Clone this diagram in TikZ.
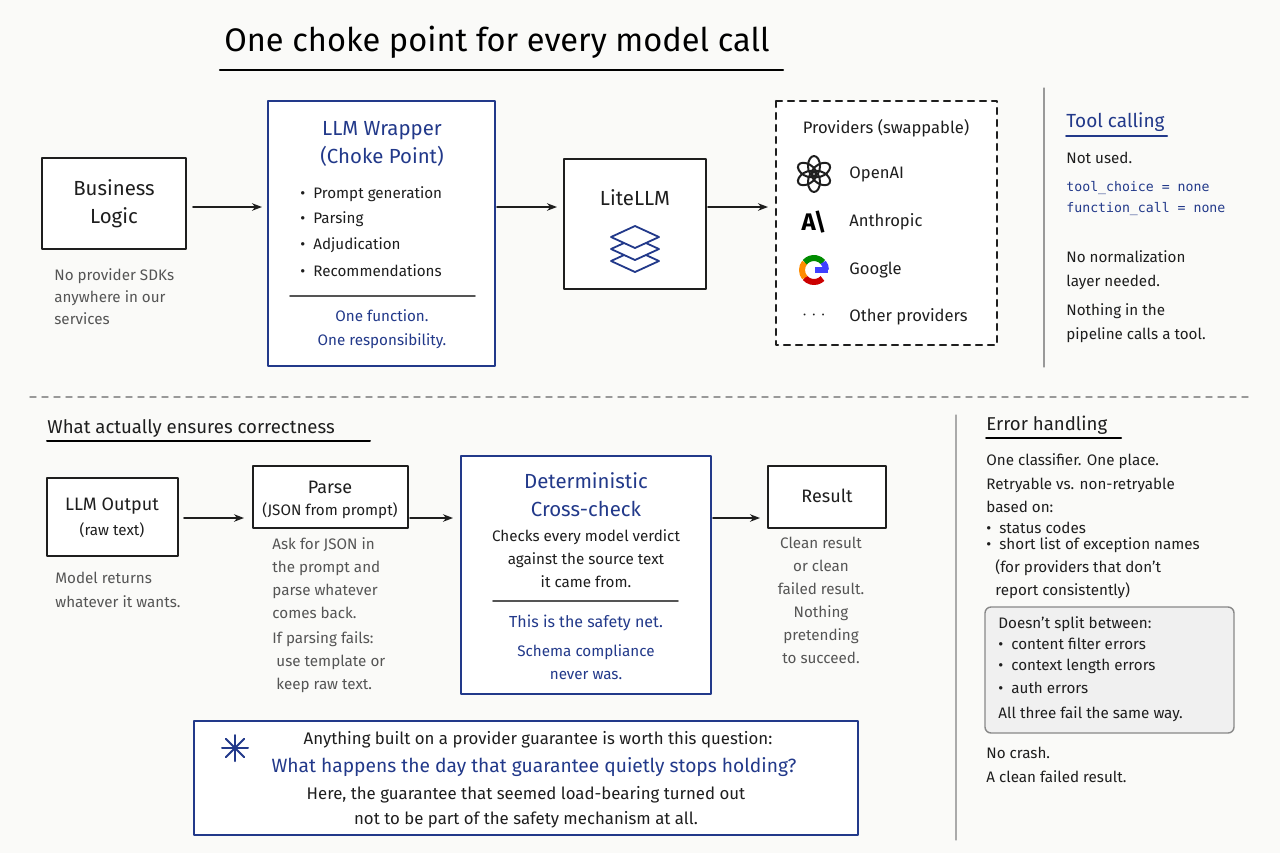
\documentclass[tikz,border=0pt]{standalone}
\usepackage{fontspec}
\setmainfont{Fira Sans}
\setmonofont{DejaVu Sans Mono}
\usetikzlibrary{arrows.meta}
\definecolor{ink}{HTML}{1E1E1E}
\definecolor{navy}{HTML}{22398A}
\definecolor{note}{HTML}{555555}
\definecolor{paper}{HTML}{FAFAF8}
\begin{document}
\begin{tikzpicture}[x=0.5pt,y=-0.5pt,line join=round,line cap=round]
\tikzstyle{box}=[draw=ink,line width=1.1pt,fill=white]
\tikzstyle{bluebox}=[draw=navy,line width=1.2pt,fill=white]
\tikzstyle{arr}=[-{Stealth[length=5pt]},line width=0.9pt,ink]
\tikzstyle{txt}=[inner sep=0,font=\fontsize{7.6}{9}\selectfont,text=ink]
\tikzstyle{head}=[inner sep=0,font=\fontsize{10.2}{12}\selectfont,text=ink]
\tikzstyle{gray}=[txt,text=note,anchor=west]
\fill[paper] (0,0) rectangle (1280,853);
\useasboundingbox (0,0) rectangle (1280,853);
% title
\node[inner sep=0,font=\fontsize{16.3}{20}\selectfont] (title) at (497,42) {One choke point for every model call};
\draw[line width=1.2pt] (220,70) -- (783,70);
% top row
\draw[box] (42,158) rectangle (186,249);
\node[head,align=center] (biz) at (114,204) {Business\\[2pt]Logic};
\node[gray,align=left] (biznote) at (54,297) {No provider SDKs\\[2pt]anywhere in our\\[2pt]services};
\draw[bluebox] (268,101) rectangle (495,366);
\node[head,text=navy,align=center] (wrap) at (382,144) {LLM Wrapper\\[2pt](Choke Point)};
\foreach \t [count=\i] in {Prompt generation,Parsing,Adjudication,Recommendations}
  \node[txt,anchor=west] (w\i) at (300,168+25.7*\i) {\textbullet\ \ \t};
\draw[line width=0.8pt,note] (290,296) -- (475,296);
\node[txt,text=navy,align=center] (wrapnote) at (382,329) {One function.\\[3pt]One responsibility.};
\draw[box] (564,159) rectangle (706,289);
\node[head] (lite) at (635,198) {LiteLLM};
\foreach \dy in {24,12,0}
  \draw[navy,line width=0.9pt,fill=white] (635,248+\dy) -- ++(24,-11) -- ++(-24,-11) -- ++(-24,11) -- cycle;
\draw[box,dashed] (776,101) rectangle (997,345);
\node[txt,font=\fontsize{8.3}{10}\selectfont] (prov) at (886,128) {Providers (swappable)};
% openai
\foreach \a in {0,60,...,300}
  \draw[ink,line width=1pt,rotate around={\a:(814,174)}] (814,166) ellipse [x radius=6,y radius=10];
\node[txt,anchor=west,font=\fontsize{8.3}{10}\selectfont] (oai) at (849,174) {OpenAI};
% anthropic
\node[inner sep=0,font=\fontsize{12}{12}\bfseries\selectfont] (aic) at (814,222) {A\kern-1pt\textbackslash};
\node[txt,anchor=west,font=\fontsize{8.3}{10}\selectfont] (ant) at (849,222) {Anthropic};
% google
\draw[line width=3pt,red!80!black,line cap=butt] (814,270) ++(45:12) arc (45:140:12);
\draw[line width=3pt,orange!90!yellow,line cap=butt] (814,270) ++(140:12) arc (140:220:12);
\draw[line width=3pt,green!55!black,line cap=butt] (814,270) ++(220:12) arc (220:320:12);
\draw[line width=3pt,blue!75,line cap=butt] (814,270) ++(320:12) arc (320:360:12);
\draw[line width=3pt,blue!75,line cap=butt] (827.5,270) -- (815,270);
\node[txt,anchor=west,font=\fontsize{8.3}{10}\selectfont] (goo) at (849,270) {Google};
\node[txt,font=\fontsize{9}{10}\bfseries\selectfont] (dots) at (814,315) {$\cdot\cdot\cdot$};
\node[txt,anchor=west,font=\fontsize{8.3}{10}\selectfont] (oth) at (849,317) {Other providers};
\coordinate (a1) at (193,207); \coordinate (a2) at (262,207);
\coordinate (a3) at (497,207); \coordinate (a4) at (557,207);
\coordinate (a5) at (708,207); \coordinate (a6) at (768,207);
\draw[arr] (a1) -- (a2); \draw[arr] (a3) -- (a4); \draw[arr] (a5) -- (a6);
% tool calling
\draw[line width=0.6pt,note!60] (1044,88) -- (1044,367);
\node[head,text=navy,anchor=west,font=\fontsize{9.5}{11}\selectfont] (tool) at (1066,122) {Tool calling};
\draw[navy,line width=1pt] (1066,136) -- (1167,136);
\node[txt,anchor=west] (nu) at (1066,158) {Not used.};
\node[txt,anchor=west,text=navy,font=\fontsize{6.6}{8}\ttfamily] (tc1) at (1066,188) {tool\_choice = none};
\node[txt,anchor=west,text=navy,font=\fontsize{6.6}{8}\ttfamily] (tc2) at (1066,209) {function\_call = none};
\node[txt,anchor=west,align=left] (nn) at (1066,270) {No normalization\\[3pt]layer needed.};
\node[txt,anchor=west,align=left] (ni) at (1066,323) {Nothing in the\\[3pt]pipeline calls a tool.};
\draw[dashed,note!60,line width=0.7pt] (30,397) -- (1248,397);
% bottom row
\node[head,anchor=west,font=\fontsize{9.3}{11}\selectfont] (corr) at (47,428) {What actually ensures correctness};
\draw[line width=1pt] (47,441) -- (370,441);
\draw[box] (47,478) rectangle (178,556);
\node[head,font=\fontsize{9}{11}\selectfont] (out) at (112,506) {LLM Output};
\node[txt] (raw) at (112,530) {(raw text)};
\node[gray,align=left] (outnote) at (55,590) {Model returns\\[3pt]whatever it wants.};
\draw[box] (253,466) rectangle (408,528);
\node[head,font=\fontsize{9}{11}\selectfont] (parse) at (330,487) {Parse};
\node[txt] (json) at (330,511) {(JSON from prompt)};
\node[gray,align=left] (pnote) at (272,578) {Ask for JSON in\\[2.5pt]the prompt and\\[2.5pt]parse whatever\\[2.5pt]comes back.};
\node[gray,align=left] (pfail) at (272,662) {If parsing fails:\\[2.5pt]\ use template or\\[2.5pt]\ keep raw text.};
\draw[bluebox] (461,456) rectangle (711,694);
\node[head,text=navy,align=center] (det) at (586,495) {Deterministic\\[2pt]Cross-check};
\node[txt,align=center] (chk) at (586,559) {Checks every model verdict\\[2.5pt]against the source text\\[2.5pt]it came from.};
\draw[line width=0.8pt,note] (493,601) -- (678,601);
\node[txt,text=navy,font=\fontsize{8}{10}\selectfont] (safe) at (586,623) {This is the safety net.};
\node[txt,text=navy,align=center] (schema) at (586,662) {Schema compliance\\[2.5pt]never was.};
\draw[box] (768,466) rectangle (886,528);
\node[head,font=\fontsize{9}{11}\selectfont] (res) at (827,496) {Result};
\node[txt,text=note,align=center] (rnote) at (821,566) {Clean result\\[2.5pt]or clean\\[2.5pt]failed result.};
\node[txt,text=note,align=center] (rn2) at (821,635) {Nothing\\[2.5pt]pretending\\[2.5pt]to succeed.};
\coordinate (b1) at (184,518); \coordinate (b2) at (244,518);
\coordinate (b3) at (410,518); \coordinate (b4) at (453,518);
\coordinate (b5) at (713,518); \coordinate (b6) at (760,518);
\draw[arr] (b1) -- (b2); \draw[arr] (b3) -- (b4); \draw[arr] (b5) -- (b6);
% callout
\draw[bluebox,line width=1pt] (194,721) rectangle (858,835);
\foreach \a in {0,45,90,135}
  \draw[navy,line width=1pt,rotate around={\a:(235,748)}] (222,748) -- (248,748);
\node[txt,font=\fontsize{8.4}{10}\selectfont] (q1) at (538,740) {Anything built on a provider guarantee is worth this question:};
\node[txt,text=navy,font=\fontsize{9.6}{11}\selectfont] (q2) at (534,767) {What happens the day that guarantee quietly stops holding?};
\node[txt,font=\fontsize{8.4}{10}\selectfont] (q3) at (526,795) {Here, the guarantee that seemed load-bearing turned out};
\node[txt,font=\fontsize{8.4}{10}\selectfont] (q4) at (526,820) {not to be part of the safety mechanism at all.};
% error handling
\draw[line width=0.6pt,note!50] (956,415) -- (956,840);
\node[head,anchor=west,font=\fontsize{9.3}{11}\selectfont] (err) at (986,425) {Error handling};
\draw[line width=1pt] (986,438) -- (1121,438);
\node[txt,anchor=west] (e1) at (986,461) {One classifier. One place.};
\node[txt,anchor=west,align=left] (e2) at (986,495) {Retryable vs. non-retryable\\[2.5pt]based on:};
\node[txt,anchor=west] (e3) at (986,528) {\textbullet\ \ status codes};
\node[txt,anchor=west,align=left] (e4) at (986,568) {\textbullet\ \ short list of exception names\\[2.5pt]\hphantom{\textbullet\ }(for providers that don't\\[2.5pt]\hphantom{\textbullet\ }report consistently)};
\draw[draw=note!70,fill=black!6,line width=0.7pt,rounded corners=3pt] (985,607) rectangle (1234,733);
\node[txt,anchor=west] (g0) at (998,624) {Doesn't split between:};
\foreach \t [count=\i] in {content filter errors,context length errors,auth errors}
  \node[txt,anchor=west] (g\i) at (998,622+22*\i) {\textbullet\ \ \t};
\node[txt,anchor=west] (g4) at (998,714) {All three fail the same way.};
\node[txt,anchor=west,align=left] (e5) at (986,765) {No crash.\\[3pt]A clean failed result.};
\end{tikzpicture}
\end{document}
